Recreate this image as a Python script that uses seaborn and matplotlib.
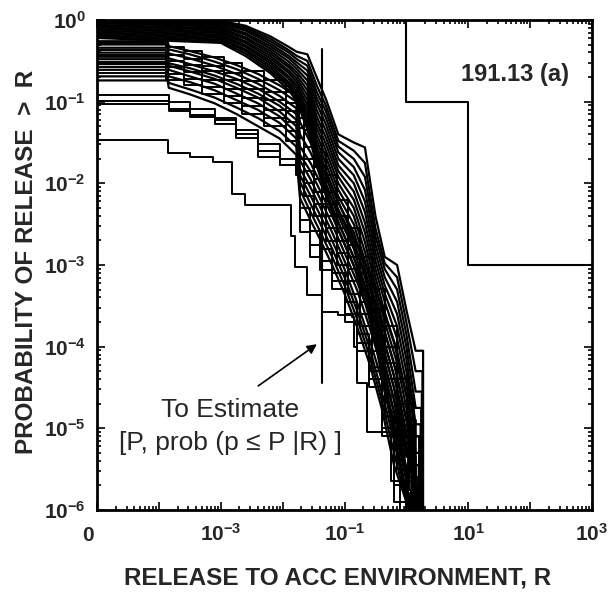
import numpy as np
import pandas as pd
import seaborn as sns
import matplotlib.pyplot as plt
import matplotlib.ticker as mticker

# release points (log10 R) shared by the upper family of curves
upper_logR = [-5.0, -3.0, -2.6, -2.2, -1.9, -1.77, -1.6, -1.45, -1.3, -1.1, -0.85, -0.67, -0.5, -0.35, -0.15, 0.0, 0.15]
# log10 P(release > R) for each upper curve
upper_logP = [
    [0.00, -0.01, -0.07, -0.20, -0.33, -0.39, -0.42, -0.70, -0.97, -1.40, -1.50, -1.56, -2.40, -2.90, -3.00, -3.55, -4.05],
    [0.00, -0.02, -0.09, -0.23, -0.37, -0.44, -0.50, -0.80, -1.05, -1.48, -1.60, -1.75, -2.55, -2.98, -3.15, -3.70, -4.30],
    [-0.01, -0.03, -0.11, -0.26, -0.40, -0.48, -0.56, -0.88, -1.12, -1.55, -1.70, -1.92, -2.65, -3.05, -3.30, -3.85, -4.55],
    [-0.02, -0.04, -0.13, -0.29, -0.44, -0.52, -0.62, -0.95, -1.20, -1.62, -1.80, -2.08, -2.75, -3.15, -3.45, -4.00, -4.75],
    [-0.03, -0.06, -0.16, -0.32, -0.47, -0.56, -0.68, -1.02, -1.28, -1.70, -1.90, -2.22, -2.85, -3.25, -3.60, -4.15, -4.95],
    [-0.04, -0.08, -0.18, -0.35, -0.51, -0.60, -0.74, -1.10, -1.36, -1.78, -2.00, -2.35, -2.95, -3.35, -3.75, -4.30, -5.10],
    [-0.06, -0.10, -0.21, -0.38, -0.55, -0.64, -0.80, -1.18, -1.44, -1.85, -2.10, -2.48, -3.05, -3.45, -3.90, -4.45, -5.30],
    [-0.07, -0.12, -0.23, -0.41, -0.58, -0.68, -0.86, -1.25, -1.52, -1.92, -2.20, -2.60, -3.15, -3.58, -4.05, -4.60, -5.45],
    [-0.09, -0.14, -0.26, -0.44, -0.62, -0.72, -0.92, -1.32, -1.60, -2.00, -2.30, -2.72, -3.25, -3.70, -4.20, -4.75, -5.60],
    [-0.11, -0.16, -0.28, -0.47, -0.65, -0.76, -0.98, -1.40, -1.68, -2.08, -2.40, -2.84, -3.35, -3.82, -4.35, -4.90, -5.70],
    [-0.13, -0.18, -0.31, -0.50, -0.69, -0.80, -1.04, -1.47, -1.76, -2.16, -2.50, -2.95, -3.45, -3.95, -4.50, -5.05, -5.80],
    [-0.15, -0.20, -0.33, -0.53, -0.72, -0.84, -1.10, -1.54, -1.84, -2.24, -2.60, -3.05, -3.55, -4.08, -4.65, -5.20, -5.85],
    [-0.17, -0.22, -0.36, -0.56, -0.76, -0.88, -1.16, -1.60, -1.92, -2.32, -2.70, -3.15, -3.65, -4.20, -4.80, -5.35, -5.90],
    [-0.19, -0.24, -0.38, -0.59, -0.79, -0.92, -1.22, -1.66, -2.00, -2.40, -2.80, -3.25, -3.75, -4.32, -4.95, -5.50, -5.92],
    [-0.21, -0.26, -0.41, -0.62, -0.82, -0.96, -1.28, -1.72, -2.08, -2.48, -2.90, -3.35, -3.85, -4.45, -5.10, -5.65, -5.95],
    [-0.22, -0.28, -0.44, -0.65, -0.86, -1.00, -1.34, -1.78, -2.15, -2.56, -3.00, -3.45, -3.95, -4.55, -5.25, -5.80, -5.97],
]
upper_end = [0.27, 0.26, 0.25, 0.24, 0.23, 0.22, 0.21, 0.20, 0.19, 0.18, 0.17, 0.16, 0.15, 0.14, 0.13, 0.12]

# release points for the middle / lower family (first drop near 1.4e-4, big drop near 0.018)
mid_logR = [-5.0, -3.86, -3.84, -3.5, -3.1, -2.75, -2.4, -2.05, -1.78, -1.72, -1.55, -1.4, -1.2, -1.0, -0.8, -0.6, -0.4, -0.2, 0.0, 0.15]
mid_logP = [
    [-0.26, -0.26, -0.32, -0.38, -0.46, -0.55, -0.66, -0.80, -0.93, -1.25, -1.50, -1.75, -2.05, -2.40, -2.75, -3.10, -3.50, -3.95, -4.60, -5.40],
    [-0.30, -0.30, -0.36, -0.42, -0.51, -0.60, -0.72, -0.86, -1.00, -1.40, -1.62, -1.88, -2.20, -2.50, -2.85, -3.25, -3.70, -4.20, -4.90, -5.60],
    [-0.34, -0.34, -0.41, -0.47, -0.56, -0.66, -0.78, -0.93, -1.08, -1.55, -1.75, -1.98, -2.30, -2.65, -3.00, -3.40, -3.85, -4.35, -5.10, -5.70],
    [-0.40, -0.40, -0.47, -0.54, -0.63, -0.72, -0.84, -1.00, -1.15, -1.65, -1.85, -2.08, -2.40, -2.75, -3.10, -3.50, -3.95, -4.50, -5.30, -5.90],
    [-0.45, -0.45, -0.53, -0.59, -0.68, -0.78, -0.90, -1.05, -1.22, -1.72, -1.95, -2.18, -2.50, -2.85, -3.20, -3.60, -4.10, -4.65, -5.50, -5.95],
    [-0.48, -0.48, -0.56, -0.63, -0.72, -0.83, -0.95, -1.12, -1.30, -1.82, -2.05, -2.28, -2.60, -2.95, -3.30, -3.75, -4.25, -4.80, -5.60, -5.95],
    [-0.54, -0.54, -0.61, -0.69, -0.78, -0.90, -1.02, -1.18, -1.38, -1.90, -2.15, -2.38, -2.70, -3.05, -3.45, -3.90, -4.40, -5.00, -5.80, -6.00],
    [-0.61, -0.61, -0.69, -0.76, -0.86, -0.98, -1.10, -1.26, -1.45, -1.98, -2.25, -2.48, -2.80, -3.15, -3.55, -4.00, -4.55, -5.15, -5.85, -6.00],
    [-0.69, -0.69, -0.77, -0.85, -0.95, -1.07, -1.20, -1.36, -1.55, -2.08, -2.35, -2.58, -2.90, -3.25, -3.65, -4.10, -4.65, -5.30, -5.90, -6.00],
    [-0.74, -0.74, -0.83, -0.91, -1.02, -1.15, -1.30, -1.45, -1.65, -2.18, -2.45, -2.68, -3.00, -3.35, -3.75, -4.20, -4.75, -5.45, -5.90, -6.00],
]
mid_end = [0.12, 0.15, 0.10, 0.13, 0.08, 0.11, 0.06, 0.09, 0.04, 0.07]

# a second middle set, drawn as stairs on its own release points
mid2_logR = [-5.0, -3.88, -3.6, -3.3, -2.95, -2.65, -2.3, -1.95, -1.74, -1.65, -1.5, -1.3, -1.12, -0.95, -0.75, -0.55, -0.35, -0.15, 0.05]
mid2_logP = [
    [-0.28, -0.33, -0.38, -0.45, -0.53, -0.62, -0.74, -0.88, -1.05, -1.35, -1.62, -1.90, -2.20, -2.55, -2.90, -3.30, -3.75, -4.40, -5.10],
    [-0.37, -0.43, -0.48, -0.56, -0.65, -0.75, -0.88, -1.02, -1.20, -1.55, -1.80, -2.10, -2.40, -2.75, -3.10, -3.55, -4.00, -4.70, -5.40],
    [-0.43, -0.50, -0.55, -0.63, -0.73, -0.84, -0.98, -1.12, -1.32, -1.70, -1.95, -2.25, -2.55, -2.90, -3.30, -3.70, -4.20, -4.90, -5.60],
    [-0.51, -0.58, -0.64, -0.73, -0.84, -0.95, -1.10, -1.25, -1.45, -1.85, -2.10, -2.40, -2.70, -3.05, -3.45, -3.90, -4.40, -5.10, -5.75],
    [-0.58, -0.66, -0.72, -0.82, -0.93, -1.05, -1.20, -1.36, -1.58, -2.00, -2.25, -2.55, -2.85, -3.20, -3.60, -4.05, -4.60, -5.30, -5.85],
    [-0.65, -0.73, -0.80, -0.90, -1.02, -1.15, -1.30, -1.48, -1.70, -2.15, -2.40, -2.70, -3.00, -3.35, -3.75, -4.25, -4.80, -5.50, -5.90],
]
mid2_end = [0.20, 0.14, 0.10, 0.07, 0.03, 0.01]

# lower curves, drawn as stairs on the middle release points
lower_logP = [
    [-0.92, -0.92, -1.01, -1.09, -1.20, -1.35, -1.52, -1.70, -1.80, -2.30, -2.58, -2.80, -3.10, -3.45, -3.85, -4.30, -4.85, -5.50, -5.90, -6.00],
    [-0.99, -0.99, -1.09, -1.16, -1.22, -1.40, -1.60, -1.78, -1.90, -2.45, -2.75, -2.95, -3.20, -3.60, -3.95, -4.40, -5.00, -5.70, -5.95, -6.00],
    [-1.03, -1.03, -1.12, -1.19, -1.27, -1.45, -1.68, -1.78, -1.85, -2.60, -2.90, -3.06, -3.30, -3.70, -4.05, -4.50, -5.10, -5.90, -5.95, -6.00],
]
lower_end = [0.02, 0.05, 0.0]

# lowest curve has its own steps
low_logR = [-5.0, -3.85, -3.5, -3.13, -2.82, -2.61, -1.87, -1.80, -1.60, -1.36, -1.10, -0.88, -0.85, -0.80, -0.63, -0.25]
low_logP = [-1.47, -1.63, -1.68, -1.74, -2.13, -2.26, -2.65, -3.02, -3.37, -3.57, -3.61, -3.64, -4.00, -4.45, -5.04, -5.64]
low_end = -0.10

# requirement step line and the "to estimate" marker
req_R = [1, 1, 10, 10, 1000]
req_P = [1, 0.1, 0.1, 1e-3, 1e-3]
est_R = [0.044, 0.044]
est_P = [0.44, 3.6e-5]

smooth_rows, stair_rows = [], []
def add_curve(rows, name, logR, logP, end):
    last = logP[0]
    for r, p in zip(logR, logP):
        if r < end:
            rows.append((name, 10.0 ** r, 10.0 ** p))
            last = p
    rows.append((name, 10.0 ** end, 10.0 ** last))
    rows.append((name, 10.0 ** end, 1e-7))

for i, (lp, e) in enumerate(zip(upper_logP, upper_end)):
    add_curve(smooth_rows, f'u{i}', upper_logR, lp, e)
for i, (lp, e) in enumerate(zip(mid_logP, mid_end)):
    add_curve(smooth_rows, f'm{i}', mid_logR, lp, e)
for i, (lp, e) in enumerate(zip(mid2_logP, mid2_end)):
    add_curve(stair_rows, f'n{i}', mid2_logR, lp, e)
for i, (lp, e) in enumerate(zip(lower_logP, lower_end)):
    add_curve(stair_rows, f'l{i}', mid_logR, lp, e)
add_curve(stair_rows, 'low', low_logR, low_logP, low_end)
smooth = pd.DataFrame(smooth_rows, columns=['curve', 'R', 'P'])
stairs = pd.DataFrame(stair_rows, columns=['curve', 'R', 'P'])

sns.set_style('ticks')
plt.rcParams['font.family'] = ['Liberation Sans', 'DejaVu Sans']
plt.rcParams['mathtext.fontset'] = 'custom'
plt.rcParams['mathtext.rm'] = 'Liberation Sans:bold'
plt.rcParams['mathtext.default'] = 'rm'

fig = plt.figure(figsize=(6.13, 5.98), dpi=100)
ax = fig.add_axes([97 / 613, 88 / 598, 495 / 613, 490 / 598])
ax.set_xscale('log')
ax.set_yscale('log')

sns.lineplot(data=smooth, x='R', y='P', units='curve', estimator=None, sort=False,
             color='black', linewidth=1.6, legend=False, ax=ax)
sns.lineplot(data=stairs, x='R', y='P', units='curve', estimator=None, sort=False,
             drawstyle='steps-post', color='black', linewidth=1.4, legend=False, ax=ax)
sns.lineplot(x=req_R, y=req_P, sort=False, estimator=None, color='black', linewidth=1.5, ax=ax)
sns.lineplot(x=est_R, y=est_P, sort=False, estimator=None, color='black', linewidth=1.5, ax=ax)

ax.set_xlim(1e-5, 1e3)
ax.set_ylim(1e-6, 1)

ax.set_xticks([10.0 ** k for k in range(-5, 4)])
# trailing spaces nudge the "0" a little left of the corner, as in the scan
ax.set_xticklabels(['0   ', '', '$10^{-3}$', '', '$10^{-1}$', '', '$10^{1}$', '', '$10^{3}$'],
                   va='baseline', fontweight='bold')
ax.set_yticks([10.0 ** k for k in range(-6, 1)])
ax.set_yticklabels(['$10^{-6}$', '$10^{-5}$', '$10^{-4}$', '$10^{-3}$', '$10^{-2}$', '$10^{-1}$', '$10^{0}$'])
ax.xaxis.set_minor_locator(mticker.LogLocator(base=10, subs=np.arange(2, 10), numticks=100))
ax.yaxis.set_minor_locator(mticker.LogLocator(base=10, subs=np.arange(2, 10), numticks=100))
ax.xaxis.set_minor_formatter(mticker.NullFormatter())
ax.yaxis.set_minor_formatter(mticker.NullFormatter())
ax.tick_params(which='both', direction='in', top=True, right=True, color='black', width=1.2)
ax.tick_params(which='major', length=6, labelsize=15)
ax.tick_params(which='minor', length=3)
ax.tick_params(axis='x', which='major', pad=22)
ax.tick_params(axis='y', which='major', pad=8)
for s in ax.spines.values():
    s.set_linewidth(2.0)
    s.set_color('black')

ax.set_xlabel('RELEASE TO ACC ENVIRONMENT, R', fontsize=17.5, fontweight='bold')
ax.set_ylabel('PROBABILITY OF RELEASE  >  R', fontsize=17.5, fontweight='bold')
ax.xaxis.set_label_coords(0.485, -0.115)
ax.yaxis.set_label_coords(-0.12, 0.506)

ax.text(10 ** 1.75, 10 ** -0.67, '191.13 (a)', fontsize=17, fontweight='bold',
        ha='center', va='center')
ax.text(10 ** -2.85, 10 ** -4.77, 'To Estimate', fontsize=19, ha='center', va='center')
ax.text(10 ** -2.85, 10 ** -5.18, '[P, prob (p \u2264 P |R) ]', fontsize=19, ha='center', va='center')
ax.annotate('', xy=(10 ** -1.41, 10 ** -3.95), xytext=(10 ** -2.43, 10 ** -4.50),
            arrowprops=dict(arrowstyle='-|>', color='black', lw=1.2, mutation_scale=14))

fig.savefig('out.png', dpi=100)
